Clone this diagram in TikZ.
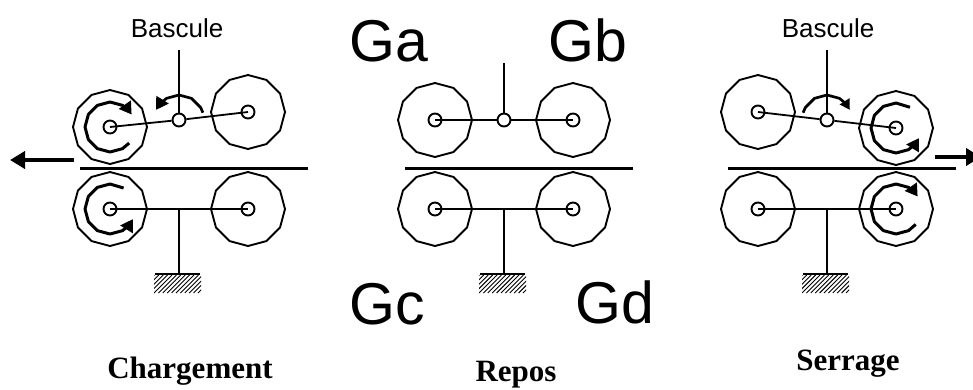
\documentclass[tikz,border=0pt]{standalone}
\usepackage{fontspec}
\setmainfont{Liberation Serif}
\setsansfont{Liberation Sans}
\usetikzlibrary{shapes.geometric,arrows.meta}
\tikzset{
  wheel/.style={draw,regular polygon,regular polygon sides=12,shape border rotate=15,minimum size=74pt,inner sep=0pt,line width=1.9pt},
  axle/.style={draw,circle,minimum size=13pt,inner sep=0pt,line width=1.9pt},
  joint/.style={draw,circle,minimum size=13pt,inner sep=0pt,line width=1.9pt,fill=white},
  link/.style={line width=1.8pt},
  plate/.style={line width=3pt},
  spin/.style={line width=3pt,line join=round,-{Triangle[length=12pt,width=14pt]}},
  travel/.style={line width=4.5pt,-{Triangle[length=15pt,width=17pt]}},
  small/.style={anchor=base,font=\sffamily\fontsize{26}{28}\selectfont},
  big/.style={anchor=base,font=\sffamily\fontsize{59}{62}\selectfont},
  caption/.style={anchor=base,font=\bfseries\fontsize{31}{34}\selectfont}
}
% prefix, pivot x, left wheel y, right wheel y, stem top y
\newcommand\mechanism[5]{
  \node[wheel] (#1a) at (#2-69,#3) {};
  \node[wheel] (#1b) at (#2+69,#4) {};
  \node[wheel] (#1c) at (#2-69,209) {};
  \node[wheel] (#1d) at (#2+69,209) {};
  \node[axle] (#1ax) at (#1a.center) {};
  \node[axle] (#1bx) at (#1b.center) {};
  \node[axle] (#1cx) at (#1c.center) {};
  \node[axle] (#1dx) at (#1d.center) {};
  \coordinate (#1top) at (#2,#5);
  \coordinate (#1foot) at (#2,274);
  \coordinate (#1footl) at (#2-24,274);
  \coordinate (#1footr) at (#2+21,274);
  \coordinate (#1mid) at (#2,209);
  \coordinate (#1pl) at (#2-99,168);
  \coordinate (#1pr) at (#2+129,168);
  \node[joint] (#1p) at (#2,120) {};
  \draw[link] (#1top) -- (#1p);
  \draw[link] (#1p) -- (#1a.center);
  \draw[link] (#1p) -- (#1b.center);
  \draw[link] (#1c.center) -- (#1d.center);
  \draw[link] (#1mid) -- (#1foot);
  \draw[link,line width=2.6pt] (#1footl) -- (#1footr);
  \draw[plate] (#1pl) -- (#1pr);
  \begin{scope}
    \clip (#2-25,275) rectangle (#2+22,293);
    \foreach \k in {-6,...,14} {
      \draw[line width=0.9pt] (#2-25+\k*4.4,293) -- (#2-25+\k*4.4+18,275);
    }
  \end{scope}
}
\begin{document}
\begin{tikzpicture}[x=1pt,y=-1pt]
\useasboundingbox (0,0) rectangle (973,389);
\mechanism{l}{179}{127}{112}{50}
\mechanism{m}{504}{120}{120}{63}
\mechanism{r}{827}{112}{128}{50}

% rotation arrows on the wheels
\draw[spin,shift={(la.center)}] plot[samples at={-40,-60,-90,-120,-150,-180,-210,-240,-270,-300,-320,-330}] ({25*cos(\x)},{-25*sin(\x)});
\draw[spin,shift={(lc.center)}] plot[samples at={57,90,120,150,180,210,240,270,300,320,336}] ({25*cos(\x)},{-25*sin(\x)});
\draw[spin,shift={(rb.center)}] plot[samples at={56,90,120,150,180,210,240,270,300,320,336}] ({25*cos(\x)},{-25*sin(\x)});
\draw[spin,shift={(rd.center)}] plot[samples at={-38,-60,-90,-120,-150,-180,-210,-240,-270,-300,-320,-330}] ({25*cos(\x)},{-25*sin(\x)});

% rotation arrows on the rockers
\draw[spin,line width=2.7pt,shift={(lp.center)}] plot[samples at={17,30,60,90,120,140,156}] ({25*cos(\x)},{-25*sin(\x)});
\draw[spin,line width=2.7pt,-{Triangle[length=10pt,width=11pt]},shift={(rp.center)}] plot[samples at={163,150,120,90,60,40,24}] ({25*cos(\x)},{-25*sin(\x)});

% travel arrows
\coordinate (ls) at (74,160);
\coordinate (le) at (10,160);
\coordinate (rs) at (935,157);
\coordinate (re) at (981,157);
\draw[travel] (ls) -- (le);
\draw[travel] (rs) -- (re);

% texts
\node[small] (t1) at (177,37) {Bascule};
\node[small] (t2) at (828,37) {Bascule};
\node[big] (ga) at (388.5,61) {Ga};
\node[big] (gb) at (587.5,61) {Gb};
\node[big] (gc) at (387,324) {Gc};
\node[big] (gd) at (614.5,323) {Gd};
\node[caption] (c1) at (190,378) {Chargement};
\node[caption] (c2) at (516,381.5) {Repos};
\node[caption] (c3) at (848,370) {Serrage};
\end{tikzpicture}
\end{document}
